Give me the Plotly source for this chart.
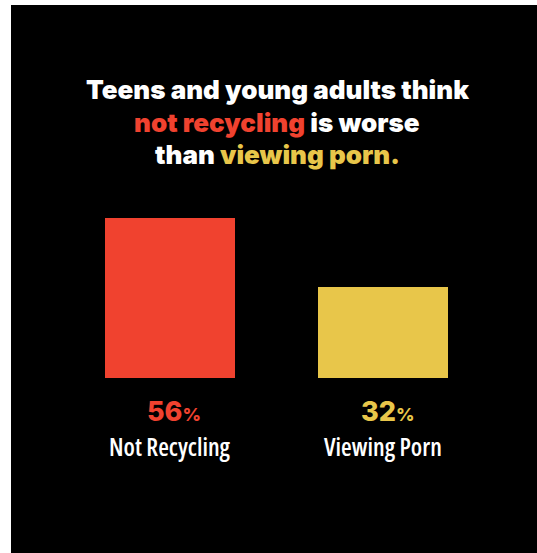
import plotly.graph_objects as go

categories = ["Not Recycling", "Viewing Porn"]
values = [56, 32]
colors = ["#F0422F", "#E8C64A"]
title_lines = [
    "Teens and young adults think",
    "<span style='color:#F0422F'>not recycling</span> is worse",
    "than <span style='color:#E8C64A'>viewing porn.</span>",
]

W, H = 537, 553
fig = go.Figure()
fig.add_trace(go.Bar(
    x=categories, y=values, marker=dict(color=colors, line=dict(width=0)),
    width=0.61, hoverinfo="skip", showlegend=False,
))

fig.add_shape(type="rect", xref="paper", yref="paper",
              x0=11 / W, x1=1, y0=0, y1=1 - 5 / H,
              fillcolor="black", line=dict(width=0), layer="below")

def py(pix):
    return 1 - pix / H

title_y = [90, 123, 155]
for line, yp in zip(title_lines, title_y):
    fig.add_annotation(text=line, xref="paper", yref="paper",
                       x=277 / W, y=py(yp), showarrow=False,
                       xanchor="center", yanchor="middle",
                       font=dict(family="Inter", size=26, color="white", weight=900))

for cat, v, c in zip(categories, values, colors):
    fig.add_annotation(
        text=f"{v}<span style='font-size:18px'>%</span>",
        x=cat, xref="x", yref="paper", y=py(411), showarrow=False,
        xanchor="center", yanchor="middle", xshift=4,
        font=dict(family="Inter", size=27, color=c, weight=800))
    fig.add_annotation(
        text=f"<span style='font-stretch:75%'>{cat}</span>",
        x=cat, xref="x", yref="paper", y=py(446), showarrow=False,
        xanchor="center", yanchor="middle",
        font=dict(family="Open Sans", size=24.5, color="white", weight=600))

scale = 160 / 56
base_pix = 378
fig.update_layout(
    width=W, height=H, margin=dict(l=0, r=0, t=0, b=0),
    paper_bgcolor="white", plot_bgcolor="rgba(0,0,0,0)",
    xaxis=dict(range=[-170 / 213, (W - 170) / 213], visible=False, fixedrange=True),
    yaxis=dict(range=[-(H - base_pix) / scale, base_pix / scale], visible=False, fixedrange=True),
    bargap=0,
)
fig.write_html("out.html", config={"displayModeBar": False})
